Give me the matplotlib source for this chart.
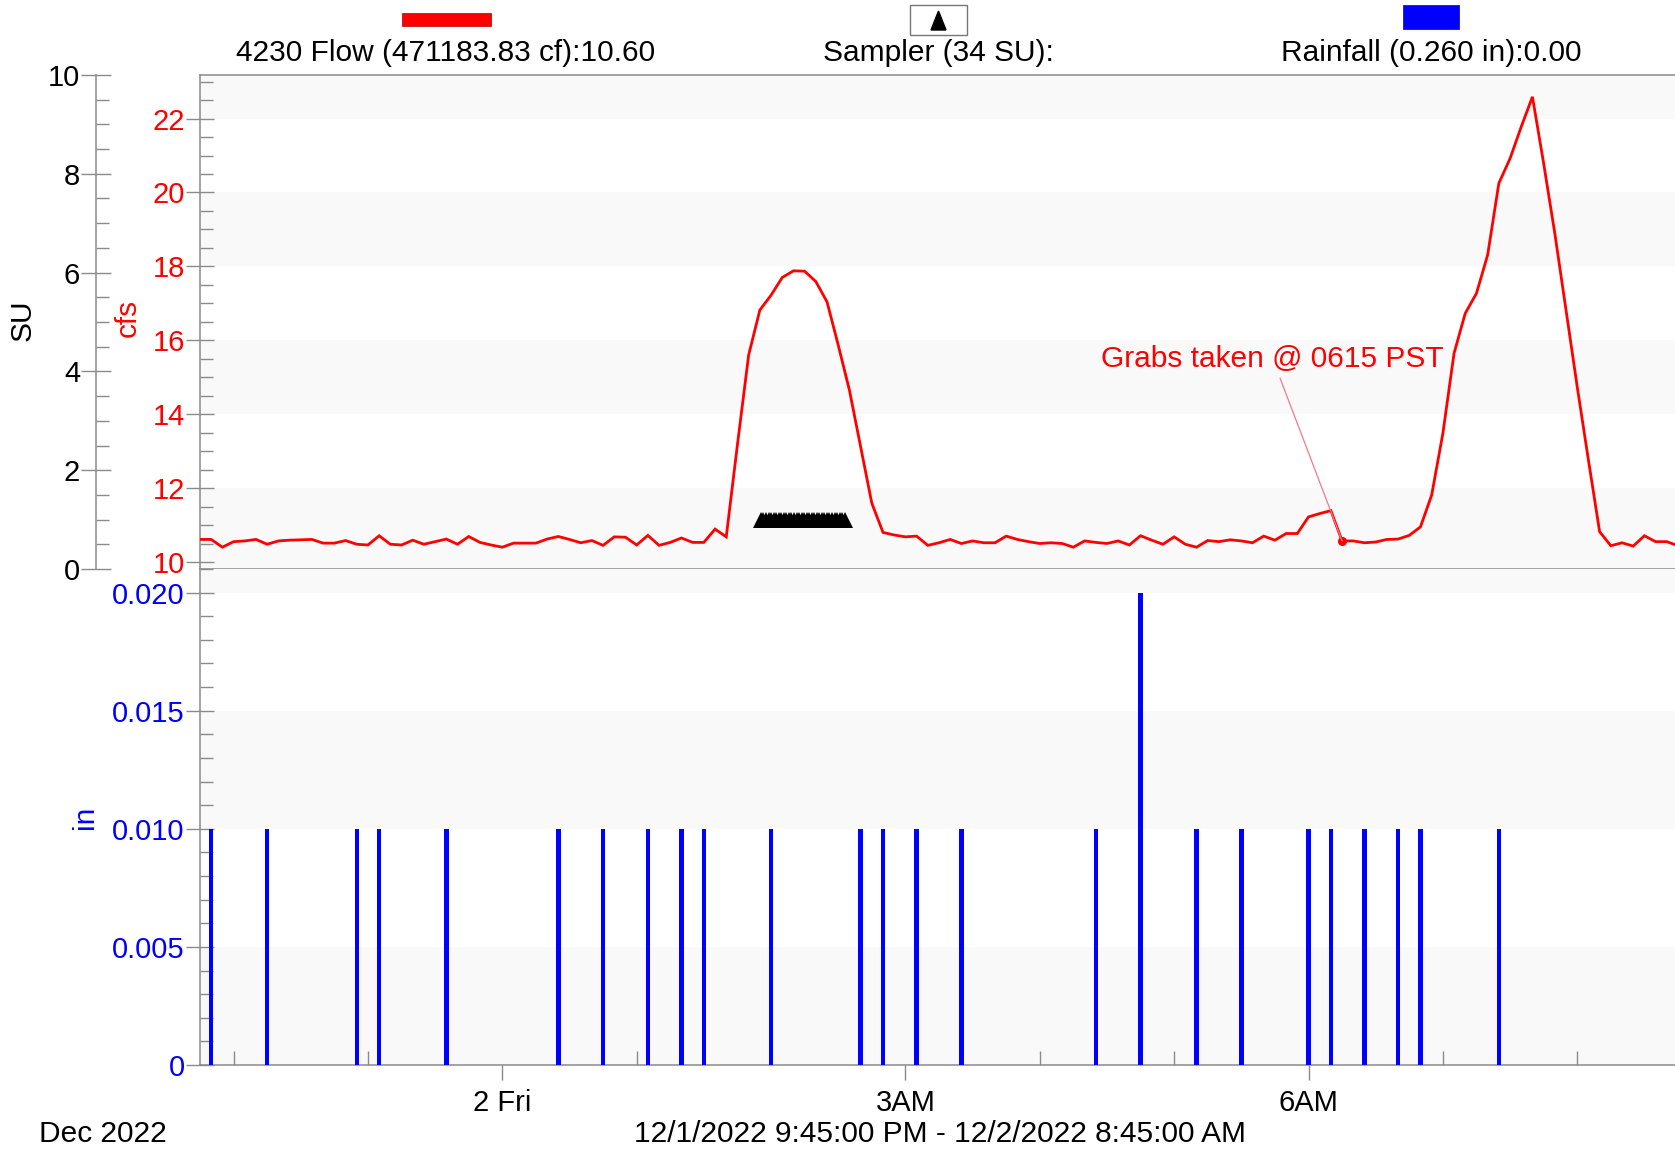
import matplotlib
matplotlib.use("Agg")
import matplotlib.pyplot as plt
import matplotlib.dates as mdates
import numpy as np
import pandas as pd
from matplotlib.patches import Rectangle, Polygon
from matplotlib.ticker import FixedLocator, FixedFormatter, MultipleLocator

plt.rcParams['font.family'] = ['Liberation Sans', 'DejaVu Sans']

# ---------------- data ----------------
start_time = "2022-12-01 21:45"
end_time = "2022-12-02 08:45"

flow_cfs = [
    10.61, 10.61, 10.40, 10.55, 10.57, 10.61, 10.48, 10.57, 10.59, 10.60,
    10.61, 10.51, 10.51, 10.58, 10.48, 10.46, 10.71, 10.48, 10.46, 10.59,
    10.48, 10.55, 10.62, 10.48, 10.69, 10.53, 10.46, 10.40, 10.51, 10.51,
    10.51, 10.62, 10.69, 10.61, 10.52, 10.58, 10.45, 10.68, 10.67, 10.46,
    10.72, 10.45, 10.53, 10.65, 10.53, 10.53, 10.89, 10.68, 13.18, 15.60,
    16.82, 17.22, 17.70, 17.88, 17.87, 17.59, 17.04, 15.87, 14.65, 13.12,
    11.59, 10.80, 10.73, 10.68, 10.70, 10.45, 10.52, 10.61, 10.50, 10.57,
    10.52, 10.52, 10.70, 10.61, 10.55, 10.50, 10.52, 10.50, 10.40, 10.57,
    10.53, 10.50, 10.57, 10.46, 10.71, 10.59, 10.48, 10.68, 10.48, 10.40,
    10.58, 10.55, 10.60, 10.57, 10.52, 10.70, 10.59, 10.77, 10.77, 11.22,
    11.31, 11.39, 10.57, 10.57, 10.52, 10.54, 10.61, 10.62, 10.72, 10.95,
    11.81, 13.48, 15.65, 16.73, 17.27, 18.31, 20.25, 20.92, 21.78, 22.59,
    20.79, 18.89, 16.82, 14.74, 12.76, 10.82, 10.44, 10.52, 10.43, 10.71,
    10.55, 10.55, 10.44,
]

rain_times = [
    "2022-12-01 21:50", "2022-12-01 22:15", "2022-12-01 22:55", "2022-12-01 23:05",
    "2022-12-01 23:35", "2022-12-02 00:25", "2022-12-02 00:45", "2022-12-02 01:05",
    "2022-12-02 01:20", "2022-12-02 01:30", "2022-12-02 02:00", "2022-12-02 02:40",
    "2022-12-02 02:50", "2022-12-02 03:05", "2022-12-02 03:25", "2022-12-02 04:25",
    "2022-12-02 04:45", "2022-12-02 05:10", "2022-12-02 05:30", "2022-12-02 06:00",
    "2022-12-02 06:10", "2022-12-02 06:25", "2022-12-02 06:40", "2022-12-02 06:50",
    "2022-12-02 07:25",
]
rain_in = [
    0.010, 0.010, 0.010, 0.010, 0.010, 0.010, 0.010, 0.010, 0.010, 0.010,
    0.010, 0.010, 0.010, 0.010, 0.010, 0.010, 0.020, 0.010, 0.010, 0.010,
    0.010, 0.010, 0.010, 0.010, 0.010,
]

# sampler events: minutes after 2022-12-02 01:00
sampler_minutes = [
    55.5, 56.6, 57.8, 58.9, 60.0, 61.2, 62.3, 63.4, 64.6, 65.7,
    66.8, 68.0, 69.1, 70.2, 71.4, 72.5, 73.6, 74.8, 75.9, 77.0,
    78.2, 79.3, 80.4, 81.6, 82.7, 83.8, 85.0, 86.1, 87.2, 88.4,
    89.5, 90.6, 91.8, 92.9,
]
sampler_su = [1.0] * len(sampler_minutes)

grab_time = "2022-12-02 06:15"
grab_cfs = 10.57
grab_label = "Grabs taken @ 0615 PST"
grab_text_time = "2022-12-02 05:44"
grab_text_cfs = 15.5

x_major_times = ["2022-12-02 00:00", "2022-12-02 03:00", "2022-12-02 06:00"]
x_major_labels = ["2 Fri", "3AM", "6AM"]
rain_tick_values = [0, 0.005, 0.010, 0.015, 0.020]
rain_tick_labels = ["0", "0.005", "0.010", "0.015", "0.020"]

legend_flow = "4230 Flow (471183.83 cf):10.60"
legend_sampler = "Sampler (34 SU):"
legend_rain = "Rainfall (0.260 in):0.00"

# ---------------- figure ----------------
W, H, DPI = 1675, 1152, 100
fig = plt.figure(figsize=(W / DPI, H / DPI), dpi=DPI)
fig.patch.set_facecolor("white")

def fxy(px, py):
    return px / W, 1 - py / H

L, R = 200, 1678
T1, B1 = 75, 569
B2 = 1065
ax1 = fig.add_axes([L / W, 1 - B1 / H, (R - L) / W, (B1 - T1) / H])
ax2 = fig.add_axes([L / W, 1 - B2 / H, (R - L) / W, (B2 - B1) / H], sharex=ax1)

t_flow = mdates.date2num(pd.date_range(start_time, end_time, freq="5min").to_pydatetime())
t_rain = mdates.date2num(pd.to_datetime(rain_times).to_pydatetime())
t_samp = mdates.date2num((pd.Timestamp("2022-12-02 01:00")
                          + pd.to_timedelta(sampler_minutes, unit="min")).to_pydatetime())
t_grab = mdates.date2num(pd.Timestamp(grab_time).to_pydatetime())
t_gtext = mdates.date2num(pd.Timestamp(grab_text_time).to_pydatetime())
t0 = mdates.date2num(pd.Timestamp(start_time).to_pydatetime())
t1 = mdates.date2num(pd.Timestamp(end_time).to_pydatetime())

SP = "#8a8a8a"
FS = 21.5
FT = 21
band = "#f9f9f9"

# ---- upper axes (cfs) ----
ax1.set_xlim(t0, t1)
ax1.set_ylim(9.81, 23.18)
for lo, hi in [(22, 23.18), (18, 20), (14, 16), (9.81, 12)]:
    ax1.axhspan(lo, hi, color=band, zorder=0, lw=0)
ax1.plot(t_flow, flow_cfs, color="#ff0000", lw=2.0, zorder=3, solid_joinstyle="miter")
ax1.plot([t_grab], [grab_cfs], "o", color="#ff0000", ms=5.5, zorder=4)
ax1.annotate(grab_label, xy=(t_grab, grab_cfs), xytext=(t_gtext, grab_text_cfs),
             ha="center", va="center", color="#ff0000", fontsize=FS,
             arrowprops=dict(arrowstyle="-", color="#f07a8a", lw=0.9, shrinkA=2, shrinkB=0),
             zorder=5)
ax1.set_yticks([10, 12, 14, 16, 18, 20, 22])
ax1.yaxis.set_minor_locator(MultipleLocator(0.5))
ax1.tick_params(axis="y", which="major", direction="inout", length=20, width=1.0,
                color=SP, labelcolor="#ff0000", labelsize=FT, pad=1)
ax1.tick_params(axis="y", which="minor", direction="in", length=9.5, width=1.0, color=SP)
ax1.tick_params(axis="x", which="both", bottom=False, top=False, labelbottom=False)
ax1.spines["right"].set_visible(False)
for s in ["top", "bottom", "left"]:
    ax1.spines[s].set_color(SP)
    ax1.spines[s].set_linewidth(1.1)

# ---- SU axis ----
ax_su = ax1.twinx()
ax_su.set_ylim(0, 10)
ax_su.set_xlim(t0, t1)
ax_su.yaxis.set_ticks_position("left")
ax_su.yaxis.set_label_position("left")
ax_su.spines["left"].set_position(("axes", (96 - L) / (R - L)))
ax_su.spines["left"].set_visible(True)
ax_su.spines["left"].set_color(SP)
ax_su.spines["left"].set_linewidth(1.1)
for s in ["right", "top", "bottom"]:
    ax_su.spines[s].set_visible(False)
ax_su.yaxis.set_major_locator(MultipleLocator(2))
ax_su.yaxis.set_minor_locator(MultipleLocator(0.5))
ax_su.tick_params(axis="y", which="major", direction="inout", length=21, width=1.0,
                  color=SP, labelcolor="black", labelsize=FT, pad=1)
ax_su.tick_params(axis="y", which="minor", direction="in", length=9.5, width=1.0, color=SP)
ax_su.tick_params(axis="x", which="both", bottom=False, top=False, labelbottom=False)
ax_su.plot(t_samp, sampler_su, linestyle="none", marker="^", color="black",
           ms=11.5, mew=0, zorder=4)

# ---- lower axes (rain) ----
ax2.set_ylim(0, 0.021)
for lo, hi in [(0.020, 0.021), (0.010, 0.015), (0.0, 0.005)]:
    ax2.axhspan(lo, hi, color=band, zorder=0, lw=0)
ax2.bar(t_rain, rain_in, width=2.0 / 1440, color="#0000ff", align="center", zorder=3, lw=0)
ax2.yaxis.set_major_locator(FixedLocator(rain_tick_values))
ax2.yaxis.set_major_formatter(FixedFormatter(rain_tick_labels))
ax2.yaxis.set_minor_locator(MultipleLocator(0.001))
ax2.tick_params(axis="y", which="major", direction="inout", length=20, width=1.0,
                color=SP, labelcolor="#0000ff", labelsize=FT, pad=1)
ax2.tick_params(axis="y", which="minor", direction="in", length=9.5, width=1.0, color=SP)

major_nums = mdates.date2num(pd.to_datetime(x_major_times).to_pydatetime())
minor_nums = mdates.date2num(pd.date_range("2022-12-01 22:00", "2022-12-02 08:00", freq="1h").to_pydatetime())
ax2.xaxis.set_major_locator(FixedLocator(major_nums))
ax2.xaxis.set_major_formatter(FixedFormatter(x_major_labels))
ax2.xaxis.set_minor_locator(FixedLocator(minor_nums))
ax2.tick_params(axis="x", which="major", direction="out", length=11, width=1.0,
                color=SP, labelcolor="black", labelsize=FT, pad=6)
ax2.tick_params(axis="x", which="minor", direction="in", length=10, width=1.0, color=SP)
ax2.set_xlim(t0, t1)
for s in ["right", "top"]:
    ax2.spines[s].set_visible(False)
for s in ["bottom", "left"]:
    ax2.spines[s].set_color(SP)
    ax2.spines[s].set_linewidth(1.1)

# ---- axis labels ----
fig.text(*fxy(23, 320), "SU", rotation=90, ha="center", va="center", fontsize=FS, color="black")
fig.text(*fxy(128, 318), "cfs", rotation=90, ha="center", va="center", fontsize=FS, color="#ff0000")
fig.text(*fxy(85, 817), "in", rotation=90, ha="center", va="center", fontsize=FS, color="#0000ff")

# ---- legend header ----
fig.patches.append(Rectangle(fxy(402, 26), 89 / W, 13 / H, transform=fig.transFigure,
                             facecolor="#ff0000", edgecolor="#b00000", lw=0.5))
fig.text(*fxy(446, 53), legend_flow, ha="center", va="center", fontsize=FS, color="black")
fig.patches.append(Rectangle(fxy(910, 35), 57 / W, 30 / H, transform=fig.transFigure,
                             facecolor="white", edgecolor="#777777", lw=1.0))
fig.patches.append(Polygon([fxy(938.5, 11), fxy(931, 30), fxy(946, 30)], closed=True,
                           transform=fig.transFigure, facecolor="black", edgecolor="black"))
fig.text(*fxy(938, 53), legend_sampler, ha="center", va="center", fontsize=FS, color="black")
fig.patches.append(Rectangle(fxy(1403, 29), 56 / W, 24 / H, transform=fig.transFigure,
                             facecolor="#0000ff", edgecolor="#0000aa", lw=0.5))
fig.text(*fxy(1431, 53), legend_rain, ha="center", va="center", fontsize=FS, color="black")

# ---- bottom texts ----
fig.text(*fxy(103, 1134), "Dec 2022", ha="center", va="center", fontsize=FS, color="black")
fig.text(*fxy(940, 1134), "12/1/2022 9:45:00 PM - 12/2/2022 8:45:00 AM",
         ha="center", va="center", fontsize=FS, color="black")

fig.savefig("out.png", dpi=DPI, facecolor="white")
